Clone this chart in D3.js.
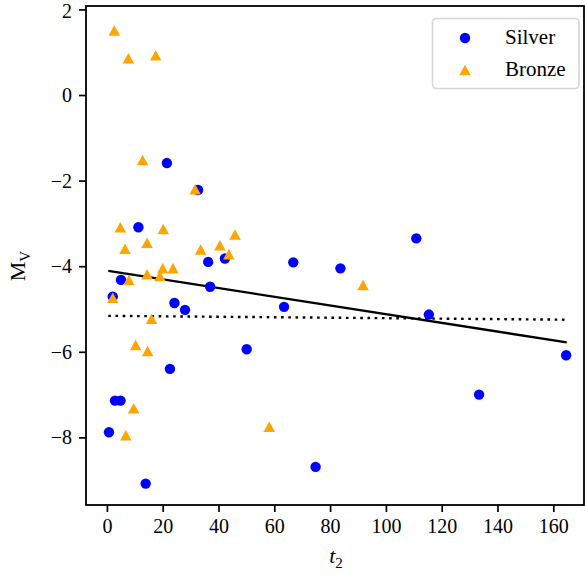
<!DOCTYPE html>
<html><head><meta charset="utf-8">
<script src="https://cdn.jsdelivr.net/npm/d3@7"></script>
<style>body{margin:0;background:#fff}svg{display:block}</style>
</head><body>
<svg id="c" width="585" height="575"></svg>
<script>
const silverT = [21.5, 32.7, 11.3, 36.3, 42.3, 5.05, 37.0, 2.1, 24.2, 28.0, 50.1, 22.6, 2.9, 4.9, 0.75, 13.9, 66.8, 83.7, 110.9, 63.5, 115.4, 74.8, 133.4, 164.6];
const silverM = [-1.59, -2.22, -3.09, -3.90, -3.82, -4.32, -4.48, -4.71, -4.86, -5.02, -5.94, -6.40, -7.14, -7.14, -7.88, -9.08, -3.91, -4.05, -3.35, -4.95, -5.13, -8.69, -7.00, -6.08];
const bronzeT = [2.65, 7.7, 17.5, 12.8, 31.6, 4.8, 20.2, 6.5, 14.4, 45.9, 33.6, 40.5, 43.7, 7.9, 14.4, 19.0, 20.0, 23.7, 2.1, 16.0, 10.3, 14.6, 9.6, 6.8, 91.8, 58.2];
const bronzeM = [1.51, 0.86, 0.93, -1.52, -2.20, -3.09, -3.13, -3.59, -3.45, -3.26, -3.61, -3.51, -3.72, -4.32, -4.19, -4.23, -4.05, -4.05, -4.74, -5.23, -5.84, -5.98, -7.32, -7.95, -4.44, -7.75];
const fitT = [0.5, 164.8];
const fitSolid = [-4.11, -5.78];
const fitDotted = [-5.16, -5.25];
const xTicks = [0, 20, 40, 60, 80, 100, 120, 140, 160];
const yTicks = [2, 0, -2, -4, -6, -8];
const seriesNames = ["Silver", "Bronze"];
const colors = {Silver: "#0000ff", Bronze: "#ffa500"};

const svg = d3.select("#c");
const L = 86, R = 584, T = 6, B = 505;
const x = d3.scaleLinear().domain([-7.49, 171.0]).range([L, R]);
const y = d3.scaleLinear().domain([-9.58, 2.08]).range([B, T]);
const font = "'Liberation Serif', 'Times New Roman', serif";

// lines
const line = d3.line().x(d => x(d[0])).y(d => y(d[1]));
svg.append("path").datum(fitT.map((t, i) => [t, fitSolid[i]]))
  .attr("d", line).attr("fill", "none").attr("stroke", "#000").attr("stroke-width", 2.3);
svg.append("path").datum(fitT.map((t, i) => [t, fitDotted[i]]))
  .attr("d", line).attr("fill", "none").attr("stroke", "#000").attr("stroke-width", 2.4)
  .attr("stroke-dasharray", "2.6,4.6");

// triangle path
function tri(cx, cy, w, h) {
  return `M${cx},${cy - h/2}L${cx - w/2},${cy + h/2}L${cx + w/2},${cy + h/2}Z`;
}

// silver
svg.append("g").selectAll("circle").data(silverT.map((t, i) => [t, silverM[i]]))
  .join("circle").attr("cx", d => x(d[0])).attr("cy", d => y(d[1])).attr("r", 5.2)
  .attr("fill", colors.Silver);
// bronze
svg.append("g").selectAll("path").data(bronzeT.map((t, i) => [t, bronzeM[i]]))
  .join("path").attr("d", d => tri(x(d[0]), y(d[1]), 11.5, 10.5))
  .attr("fill", colors.Bronze);

// axes
const xAxis = svg.append("g").attr("transform", `translate(0,${B})`)
  .call(d3.axisBottom(x).tickValues(xTicks).tickSize(7).tickPadding(7).tickFormat(d3.format("d")));
const yAxis = svg.append("g").attr("transform", `translate(${L},0)`)
  .call(d3.axisLeft(y).tickValues(yTicks).tickSize(7).tickPadding(7)
    .tickFormat(d => d < 0 ? "\u2212" + Math.abs(d) : String(d)));
[xAxis, yAxis].forEach(a => {
  a.select(".domain").remove();
  a.selectAll("line").attr("stroke", "#000").attr("stroke-width", 1.7);
  a.selectAll("text").attr("fill", "#000").style("font-family", font).style("font-size", "20px");
});
yAxis.selectAll(".tick text").filter(d => d === 2).attr("dy", "0.4em");
svg.append("rect").attr("x", L).attr("y", T).attr("width", R - L).attr("height", B - T)
  .attr("fill", "none").attr("stroke", "#000").attr("stroke-width", 1.8);

// axis labels
const xl = svg.append("text").attr("x", 336).attr("y", 563).attr("text-anchor", "middle")
  .style("font-family", font).style("font-size", "22px");
xl.append("tspan").attr("font-style", "italic").text("t");
xl.append("tspan").attr("dy", 5).style("font-size", "15px").text("2");

const yl = svg.append("text").attr("transform", "translate(25,266) rotate(-90)")
  .attr("text-anchor", "middle").style("font-family", font).style("font-size", "22px");
yl.append("tspan").text("M");
yl.append("tspan").attr("dy", 5).style("font-size", "15px").text("V");

// legend
svg.append("rect").attr("x", 432.5).attr("y", 18.5).attr("width", 146.5).attr("height", 70)
  .attr("rx", 4).attr("fill", "#fff").attr("fill-opacity", 0.8)
  .attr("stroke", "#d6d6d6").attr("stroke-width", 1.6);
svg.append("circle").attr("cx", 465).attr("cy", 38).attr("r", 5.2).attr("fill", colors.Silver);
svg.append("path").attr("d", tri(465, 70, 11.5, 10.5)).attr("fill", colors.Bronze);
svg.append("text").attr("x", 505).attr("y", 44).text(seriesNames[0])
  .style("font-family", font).style("font-size", "21px");
svg.append("text").attr("x", 505).attr("y", 76).text(seriesNames[1])
  .style("font-family", font).style("font-size", "21px");
</script>
</body></html>
